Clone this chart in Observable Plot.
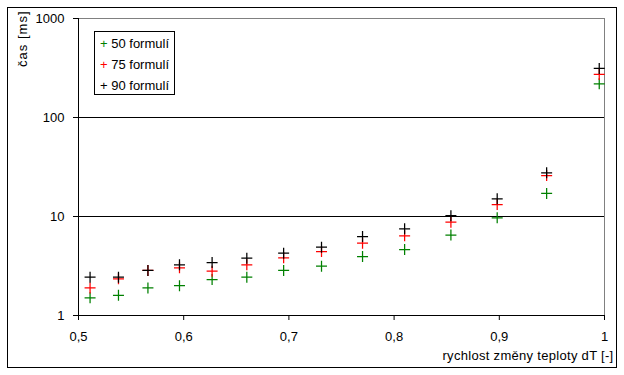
<!DOCTYPE html>
<html>
<head>
<meta charset="utf-8">
<script src="https://cdn.jsdelivr.net/npm/d3@7"></script>
<script src="https://cdn.jsdelivr.net/npm/@observablehq/plot@0.6"></script>
<style>
  html, body { margin: 0; padding: 0; background: white; }
  #wrap { position: relative; width: 624px; height: 375px; font-family: "Liberation Sans", Arial, sans-serif; font-size: 13px; }
  #frame { position: absolute; left: 7px; top: 7px; width: 610px; height: 361px; border: 1px solid black; box-sizing: border-box; pointer-events: none; }
  #legend { position: absolute; left: 94px; top: 31px; width: 81px; height: 64px; border: 1px solid black; box-sizing: border-box; background: white; padding: 1px 0 0 5px; }
  #legend div { line-height: 21px; height: 21px; white-space: nowrap; }
</style>
</head>
<body>
<div id="wrap"><div id="frame"></div><div id="legend"></div></div>
<script>
// ---- data ----
const dT = [0.511, 0.538, 0.566, 0.596, 0.627, 0.66, 0.695, 0.731, 0.77, 0.81, 0.854, 0.898, 0.945, 0.995];
const cas50 = [1.51, 1.60, 1.90, 2.00, 2.31, 2.44, 2.85, 3.15, 3.94, 4.64, 6.5, 9.7, 17.1, 219];
const cas75 = [1.90, 2.35, 2.85, 3.03, 2.80, 3.25, 3.83, 4.43, 5.37, 6.38, 8.76, 13.2, 25.9, 272];
const cas90 = [2.44, 2.44, 2.85, 3.25, 3.43, 3.79, 4.26, 4.90, 6.28, 7.51, 10.2, 15.1, 27.6, 313];
const seriesNames = ["50 formulí", "75 formulí", "90 formulí"];
const seriesColors = ["#008000", "#ff0000", "#000000"];
const xTicks = [0.5, 0.6, 0.7, 0.8, 0.9, 1];
const xTickLabels = ["0,5", "0,6", "0,7", "0,8", "0,9", "1"];
const yTicks = [1, 10, 100, 1000];
const yTickLabels = ["1", "10", "100", "1000"];
const yLabel = "čas [ms]";
const xLabel = "rychlost změny teploty dT [-]";

const seriesValues = [cas50, cas75, cas90];
const data = seriesValues.flatMap((vals, s) => vals.map((v, i) => ({x: dT[i], y: v, s: seriesNames[s]})));

const plusSymbol = {
  draw(context, size) {
    const r = Math.sqrt(size / Math.PI);
    context.moveTo(-r, 0); context.lineTo(r, 0);
    context.moveTo(0, -r); context.lineTo(0, r);
  }
};

const chart = Plot.plot({
  width: 624,
  height: 375,
  marginLeft: 78,
  marginRight: 20,
  marginTop: 18,
  marginBottom: 60,
  style: {fontFamily: "'Liberation Sans', Arial, sans-serif", fontSize: "13px", color: "black", background: "transparent", overflow: "visible"},
  x: {domain: [0.5, 1]},
  y: {type: "log", domain: [1, 1000]},
  color: {domain: seriesNames, range: seriesColors},
  marks: [
    Plot.ruleY([10, 100], {stroke: "black"}),
    Plot.ruleY([1000], {stroke: "#808080"}),
    Plot.ruleX([1], {stroke: "#808080"}),
    Plot.axisY(yTicks, {tickSize: 5, tickPadding: 9, tickFormat: d => yTickLabels[yTicks.indexOf(d)], label: null}),
    Plot.axisX(xTicks, {tickSize: 5, tickPadding: 11, tickFormat: d => xTickLabels[xTicks.indexOf(d)], label: null}),
    Plot.ruleX([0.5], {stroke: "black"}),
    Plot.ruleY([1], {stroke: "black"}),
    Plot.dot(data, {x: "x", y: "y", stroke: "s", fill: "none", symbol: plusSymbol, r: 5.5, strokeWidth: 1.25}),
    Plot.text([yLabel], {frameAnchor: "top-left", text: d => d, rotate: -90, textAnchor: "end", lineAnchor: "middle", dx: -56, dy: -8}),
    Plot.text([xLabel], {frameAnchor: "bottom-right", text: d => d, textAnchor: "end", lineAnchor: "middle", dx: 9, dy: 40})
  ]
});

d3.select(chart).selectAll("text").filter(function() { return this.textContent === yLabel; }).attr("letter-spacing", "1px");
d3.select(chart).selectAll("text").filter(function() { return this.textContent === xLabel; }).attr("letter-spacing", "0.3px");

const wrap = document.getElementById("wrap");
wrap.insertBefore(chart, wrap.firstChild);
chart.style.position = "absolute";
chart.style.left = "0px";
chart.style.top = "0px";

const legend = document.getElementById("legend");
seriesNames.forEach((name, i) => {
  const row = document.createElement("div");
  const plus = document.createElement("span");
  plus.textContent = "+";
  plus.style.color = seriesColors[i];
  row.appendChild(plus);
  row.appendChild(document.createTextNode(" " + name));
  legend.appendChild(row);
});
</script>
</body>
</html>
